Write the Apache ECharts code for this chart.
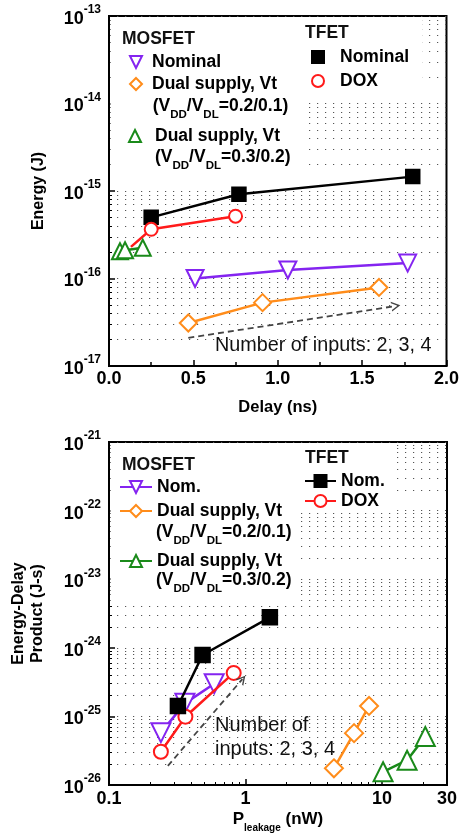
<!DOCTYPE html>
<html>
<head>
<meta charset="utf-8">
<script src="https://cdn.jsdelivr.net/npm/echarts@6/dist/echarts.min.js"></script>
<style>
html,body{margin:0;padding:0;background:#fff;}
#main{width:462px;height:834px;}
</style>
</head>
<body>
<div id="main"></div>
<script>
// top panel: energy vs delay
var delayMosNom = [0.51, 1.06, 1.77];
var energyMosNom = [1.0e-16, 1.25e-16, 1.5e-16];
var delayMosDual1 = [0.47, 0.91, 1.6];
var energyMosDual1 = [3.1e-17, 5.3e-17, 7.9e-17];
var delayMosDual2 = [0.065, 0.095, 0.2];
var energyMosDual2 = [2.05e-16, 2.1e-16, 2.25e-16];
var delayTfetNom = [0.25, 0.77, 1.8];
var energyTfetNom = [5.0e-16, 9.2e-16, 1.46e-15];
var delayTfetDox = [0.13, 0.25, 0.75];
var energyTfetDox = [2.3e-16, 3.65e-16, 5.15e-16];
var arrowTopX = [0.47, 1.7];
var arrowTopY = [2.1e-17, 4.85e-17];

// bottom panel: energy-delay product (J-s) vs leakage power (nW)
var pleakMosNom = [0.24, 0.36, 0.59];
var edpMosNom = [5.8e-26, 1.55e-25, 3.0e-25];
var pleakMosDual1 = [4.45, 6.25, 8.05];
var edpMosDual1 = [1.75e-26, 5.7e-26, 1.42e-25];
var pleakMosDual2 = [10.2, 15.3, 20.8];
var edpMosDual2 = [1.56e-26, 2.3e-26, 5.1e-26];
var pleakTfetNom = [0.32, 0.485, 1.51];
var edpTfetNom = [1.42e-25, 7.85e-25, 2.78e-24];
var pleakTfetDox = [0.24, 0.363, 0.82];
var edpTfetDox = [3.05e-26, 9.9e-26, 4.3e-25];
var arrowBotX = [0.27, 0.95];
var arrowBotY = [1.9e-26, 3.5e-25];

// echarts' log scale rounds tick values below 1e-20 to zero,
// so the EDP panel is plotted in units of 1e-21 J-s (labels add the exponent back)
var EDP_UNIT = 1e-21;
var EDP_EXP = -21;

var FONT = 'Liberation Sans, Arial, sans-serif';
var PURPLE = '#8424f0', ORANGE = '#ff8c1a', GREEN = '#1a8a1a', RED = '#ff1a1a', BLACK = '#000';
var CHEVRON = 'path://M0,10 L5,0 L10,10 L8.4,10 L5,3.2 L1.6,10 Z';

var labelMap = {
  mosNom: 'Nominal', mosDual1: 'Dual supply, Vt', mosDual2: 'Dual supply, Vt',
  tfetNom: 'Nominal', tfetDox: 'DOX',
  mosNom2: 'Nom.', mosDual12: 'Dual supply, Vt', mosDual22: 'Dual supply, Vt',
  tfetNom2: 'Nom.', tfetDox2: 'DOX'
};

function inUnit(ys, unit) {
  return ys.map(function (y) { return y / unit; });
}

function pairs(xs, ys) {
  return xs.map(function (x, i) { return [x, ys[i]]; });
}

function mk(name, idx, xs, ys, symbol, size, color, z, rotate) {
  return {
    name: name, type: 'line', xAxisIndex: idx, yAxisIndex: idx,
    data: pairs(xs, ys),
    symbol: symbol, symbolSize: size, symbolRotate: rotate || 0,
    showAllSymbol: true,
    lineStyle: { color: color, width: 2.5 },
    itemStyle: { color: color, borderColor: color, borderWidth: 2.5 },
    z: z
  };
}

function arrow(xs, ys) {
  return {
    silent: true,
    symbol: ['none', CHEVRON],
    symbolSize: [10, 9],
    label: { show: false },
    lineStyle: { color: '#444', width: 1.8, type: [6, 4] },
    itemStyle: { color: '#444' },
    data: [[{ coord: [xs[0], ys[0]] }, { coord: [xs[1], ys[1]] }]]
  };
}

function leg(name, left, top, w, hideLine) {
  var o = {
    data: [name], left: left, top: top, padding: 0,
    itemWidth: w, itemHeight: 15, selectedMode: false,
    formatter: function (n) { return labelMap[n]; },
    textStyle: { fontSize: 17.5, fontWeight: 'bold', color: '#000', fontFamily: FONT }
  };
  if (hideLine) o.lineStyle = { width: 0 };
  return o;
}

function expLabel(offset) {
  return function (v) {
    var e = Math.round(Math.log(v) / Math.LN10) + offset;
    return '{b|10}{s|' + e + '}';
  };
}

var expRich = {
  b: { fontSize: 18, fontWeight: 'bold', fontFamily: FONT, color: '#000', lineHeight: 24, verticalAlign: 'bottom' },
  s: { fontSize: 12, fontWeight: 'bold', fontFamily: FONT, color: '#000', lineHeight: 24, verticalAlign: 'top' }
};

var dotStyle = { color: '#555', width: 1.2, type: [1.2, 6.8] };

function yLog(idx, min, max, name, gap, offset) {
  return {
    gridIndex: idx, type: 'log', logBase: 10, min: min, max: max,
    name: name, nameLocation: 'middle', nameGap: gap,
    nameTextStyle: { fontSize: 16, fontWeight: 'bold', color: '#000', fontFamily: FONT, lineHeight: 19 },
    axisLine: { show: true, lineStyle: { color: '#000', width: 2 } },
    axisTick: { show: true, inside: true, length: 6, lineStyle: { color: '#000', width: 1.5 } },
    minorTick: { show: true, splitNumber: 9, length: 3, lineStyle: { color: '#000', width: 1 } },
    axisLabel: { margin: 8, formatter: expLabel(offset), rich: expRich },
    splitLine: { show: true, lineStyle: dotStyle },
    minorSplitLine: { show: true, lineStyle: dotStyle }
  };
}

function subLine(x, y, ratio) {
  return {
    type: 'text', x: x, y: y, z: 5,
    style: {
      text: '{n|(V}{d|DD}{n|/V}{d|DL}{n|=' + ratio + ')}',
      verticalAlign: 'middle',
      rich: {
        n: { fontSize: 17.5, fontWeight: 'bold', fontFamily: FONT, fill: '#000', lineHeight: 23, verticalAlign: 'top' },
        d: { fontSize: 11.5, fontWeight: 'bold', fontFamily: FONT, fill: '#000', lineHeight: 23, verticalAlign: 'bottom' }
      }
    }
  };
}

function txt(s, x, y, size, weight) {
  return {
    type: 'text', x: x, y: y, z: 5,
    style: { text: s, fontSize: size, fontWeight: weight, fontFamily: FONT, fill: '#111', verticalAlign: 'middle' }
  };
}

function box(x, y, w, h) {
  return { type: 'rect', z: 1, shape: { x: x, y: y, width: w, height: h }, style: { fill: '#fff' } };
}

var chart = echarts.init(document.getElementById('main'), null, { renderer: 'canvas' });

var topSeries = [
  mk('mosNom', 0, delayMosNom, energyMosNom, 'emptyTriangle', 17, PURPLE, 3, 180),
  mk('mosDual1', 0, delayMosDual1, energyMosDual1, 'emptyDiamond', 17, ORANGE, 3),
  mk('tfetNom', 0, delayTfetNom, energyTfetNom, 'rect', 13, BLACK, 2),
  mk('tfetDox', 0, delayTfetDox, energyTfetDox, 'emptyCircle', 13, RED, 3),
  mk('mosDual2', 0, delayMosDual2, energyMosDual2, 'emptyTriangle', 16, GREEN, 4)
];
topSeries[0].markLine = arrow(arrowTopX, arrowTopY);
// the first DOX point sits under the green triangles: only its line shows
topSeries[3].data[0] = { value: topSeries[3].data[0], symbol: 'none' };

var botSeries = [
  mk('mosNom2', 1, pleakMosNom, inUnit(edpMosNom, EDP_UNIT), 'emptyTriangle', 19, PURPLE, 3, 180),
  mk('mosDual12', 1, pleakMosDual1, inUnit(edpMosDual1, EDP_UNIT), 'emptyDiamond', 18, ORANGE, 3),
  mk('mosDual22', 1, pleakMosDual2, inUnit(edpMosDual2, EDP_UNIT), 'emptyTriangle', 19, GREEN, 3),
  mk('tfetNom2', 1, pleakTfetNom, inUnit(edpTfetNom, EDP_UNIT), 'rect', 14, BLACK, 5),
  mk('tfetDox2', 1, pleakTfetDox, inUnit(edpTfetDox, EDP_UNIT), 'emptyCircle', 14, RED, 4)
];
botSeries[0].markLine = arrow(arrowBotX, inUnit(arrowBotY, EDP_UNIT));

var option = {
  animation: false,
  backgroundColor: '#fff',
  textStyle: { fontFamily: FONT },
  grid: [
    { left: 109, top: 16, width: 338, height: 350, show: true, borderColor: '#000', borderWidth: 2, backgroundColor: 'transparent' },
    { left: 109, top: 442, width: 338, height: 343, show: true, borderColor: '#000', borderWidth: 2, backgroundColor: 'transparent' }
  ],
  xAxis: [
    {
      gridIndex: 0, type: 'value', min: 0, max: 2, interval: 0.5,
      name: 'Delay (ns)', nameLocation: 'middle', nameGap: 33,
      nameTextStyle: { fontSize: 16.5, fontWeight: 'bold', color: '#000', fontFamily: FONT },
      axisLine: { show: true, lineStyle: { color: '#000', width: 2 } },
      axisTick: { show: true, inside: true, length: 6, lineStyle: { color: '#000', width: 1.5 } },
      minorTick: { show: true, splitNumber: 2, length: 4, lineStyle: { color: '#000', width: 1.5 } },
      axisLabel: { margin: 4, fontSize: 18, fontWeight: 'bold', color: '#000', fontFamily: FONT,
        formatter: function (v) { return v.toFixed(1); } },
      splitLine: { show: false }
    },
    {
      gridIndex: 1, type: 'log', logBase: 10, min: 0.1, max: 30,
      name: '{p|P}{d|leakage}{p| (nW)}', nameLocation: 'middle', nameGap: 26,
      nameTextStyle: {
        rich: {
          p: { fontSize: 17, fontWeight: 'bold', fontFamily: FONT, color: '#000', lineHeight: 22, verticalAlign: 'top' },
          d: { fontSize: 10, fontWeight: 'bold', fontFamily: FONT, color: '#000', lineHeight: 22, verticalAlign: 'bottom' }
        }
      },
      axisLine: { show: true, lineStyle: { color: '#000', width: 2 } },
      axisTick: { show: true, inside: true, length: 6, lineStyle: { color: '#000', width: 1.5 } },
      minorTick: { show: true, splitNumber: 9, length: 3, lineStyle: { color: '#000', width: 1 } },
      axisLabel: { margin: 5, fontSize: 18, fontWeight: 'bold', color: '#000', fontFamily: FONT, showMaxLabel: true,
        formatter: function (v) { return v >= 1 ? String(Math.round(v)) : String(+v.toFixed(2)); } },
      splitLine: { show: false }
    }
  ],
  yAxis: [
    yLog(0, 1e-17, 1e-13, 'Energy (J)', 61, 0),
    yLog(1, 1e-26 / EDP_UNIT, 1e-21 / EDP_UNIT, 'Energy-Delay\nProduct (J-s)', 62, EDP_EXP)
  ],
  legend: [
    leg('mosNom', 125, 53, 22, true),
    leg('mosDual1', 125, 75, 22, true),
    leg('mosDual2', 120, 127, 30, true),
    leg('tfetNom', 301, 48, 34, true),
    leg('tfetDox', 301, 72, 34, true),
    leg('mosNom2', 119, 478, 32, false),
    leg('mosDual12', 119, 502, 32, false),
    leg('mosDual22', 119, 552, 32, false),
    leg('tfetNom2', 304, 472, 31, false),
    leg('tfetDox2', 304, 492, 31, false)
  ],
  graphic: {
    elements: [
      box(110.5, 17.2, 192.5, 161),
      box(303, 17.2, 119, 78),
      box(110.5, 443.2, 187.5, 162),
      box(298, 443.2, 97, 68),
      txt('MOSFET', 122, 39, 17.5, 'bold'),
      txt('TFET', 305, 33, 17.5, 'bold'),
      subLine(152.7, 109, '0.2/0.1'),
      subLine(155, 160, '0.3/0.2'),
      txt('MOSFET', 122, 465, 17.5, 'bold'),
      txt('TFET', 305, 458, 17.5, 'bold'),
      subLine(156, 535, '0.2/0.1'),
      subLine(156, 583, '0.3/0.2'),
      txt('Number of inputs: 2, 3, 4', 215, 346, 19.8, 'normal'),
      txt('Number of', 215, 725, 20, 'normal'),
      txt('inputs: 2, 3, 4', 215, 749, 20, 'normal')
    ]
  },
  series: topSeries.concat(botSeries)
};

chart.setOption(option);
</script>
</body>
</html>
